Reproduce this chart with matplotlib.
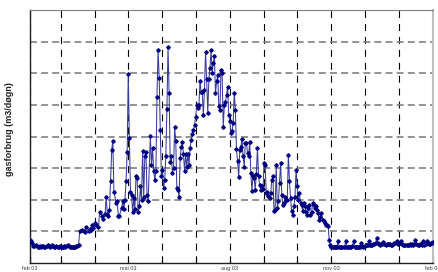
import numpy as np
import matplotlib
matplotlib.use("Agg")
import matplotlib.pyplot as plt
import matplotlib.dates as mdates

plt.rcParams['font.family'] = ['Liberation Sans', 'DejaVu Sans']
plt.rcParams['lines.scale_dashes'] = False

start_date = np.datetime64('2003-02-01')
end_date = np.datetime64('2004-02-01')

# Winter (Feb - mid March) daily values, days 0..44
days_a = list(range(0, 45))
use_a = [0.72, 0.70, 0.62, 0.55, 0.54, 0.58, 0.53, 0.52, 0.52, 0.53, 0.52, 0.54, 0.53, 0.52, 0.52,
         0.55, 0.57, 0.53, 0.52, 0.54, 0.57, 0.53, 0.52, 0.52, 0.53, 0.52, 0.52, 0.53, 0.52, 0.52,
         0.52, 0.53, 0.52, 0.55, 0.57, 0.54, 0.52, 0.52, 0.51, 0.51, 0.52, 0.52, 0.53, 0.55, 0.56]

# Spring / early summer
days_b = [45, 47, 49, 50, 51, 53, 54, 55, 56, 57, 59, 60, 62, 63, 65, 66, 68, 69, 70, 71,
          72, 73, 74, 75, 76, 78, 79, 80, 81, 83, 84, 85, 86, 87, 88, 89, 90, 91, 92, 93,
          94, 95, 96, 97, 98, 99, 100, 101, 102, 103, 104, 105, 106, 107, 109, 110, 111, 112, 113, 114,
          115, 116, 117, 118, 119, 120, 121, 122, 123, 124, 125, 126, 127, 128, 129, 130, 131, 132, 133, 134,
          135, 136, 137, 138, 139, 140, 141, 142, 143, 144, 145, 146, 147, 148, 149, 150, 151, 152, 153, 154,
          155, 156, 157, 158, 159, 160, 161, 162, 163, 164, 165, 166, 167, 168, 169, 170, 171, 172, 173, 174,
          175, 176]
use_b = [1.00, 1.05, 1.00, 0.97, 1.15, 1.02, 1.08, 1.05, 1.20, 1.10, 1.25, 1.20, 1.13, 1.60, 1.50, 1.40, 1.55, 2.10, 1.55, 1.50,
         1.68, 2.60, 3.58, 3.87, 2.26, 1.89, 1.95, 1.50, 1.50, 1.75, 1.95, 1.70, 2.00, 2.60, 3.50, 5.97, 3.95, 2.26, 2.15, 1.60,
         2.05, 1.70, 2.74, 2.70, 1.60, 1.80, 2.44, 2.00, 3.53, 2.10, 3.37, 3.50, 2.15, 1.95, 4.03, 3.10, 3.63, 2.90, 2.63, 2.90,
         5.26, 6.74, 5.86, 4.19, 2.74, 2.95, 2.37, 2.63, 3.37, 4.86, 6.82, 5.37, 3.18, 3.37, 2.86, 3.00, 4.29, 3.86, 2.37, 2.30,
         2.10, 3.32, 3.68, 3.84, 3.44, 2.90, 3.45, 3.05, 3.45, 3.10, 3.63, 3.90, 4.07, 4.20, 4.37, 4.61, 5.00, 4.90, 5.00, 5.77,
         5.40, 5.40, 4.68, 5.47, 6.68, 5.81, 4.74, 5.81, 6.16, 6.74, 6.00, 6.32, 6.53, 5.37, 5.74, 5.95, 4.97, 4.84, 6.10, 6.00,
         4.29, 5.00]

# Late summer / autumn, days 177..270
days_c = list(range(177, 271))
use_c = [5.10, 5.30, 5.58, 4.68, 4.50, 4.10, 4.16, 4.42, 5.39, 4.84, 3.61, 3.21, 2.71, 3.58, 3.68, 3.92, 3.37, 3.05, 3.79, 3.81,
         3.47, 3.37, 3.84, 2.84, 2.29, 2.74, 2.68, 2.32, 2.82, 3.63, 2.74, 2.47, 2.32, 2.42, 2.34, 3.16, 3.10, 2.21, 2.26, 2.13,
         2.05, 2.21, 2.63, 2.74, 1.63, 1.68, 3.10, 1.74, 1.95, 2.53, 3.16, 2.16, 1.84, 1.89, 2.10, 2.00, 2.00, 3.42, 2.58, 2.05,
         1.63, 1.53, 1.79, 2.10, 2.95, 2.42, 2.00, 2.21, 1.89, 1.84, 1.63, 1.89, 1.79, 1.60, 1.53, 1.74, 1.84, 1.53, 1.60, 1.89,
         1.84, 1.74, 1.79, 1.68, 1.58, 1.37, 1.47, 1.58, 1.35, 1.32, 1.26, 1.21, 1.21, 1.18]

# Winter again, days 271..365
days_d = list(range(271, 366))
use_d = [0.72, 0.58, 0.52, 0.50, 0.50, 0.51, 0.50, 0.52, 0.69, 0.51, 0.50, 0.50, 0.51, 0.50, 0.52, 0.69, 0.52, 0.50, 0.51, 0.50,
         0.50, 0.53, 0.69, 0.52, 0.51, 0.50, 0.50, 0.51, 0.52, 0.64, 0.53, 0.52, 0.55, 0.57, 0.56, 0.58, 0.70, 0.58, 0.56, 0.58,
         0.60, 0.59, 0.62, 0.79, 0.62, 0.60, 0.58, 0.59, 0.60, 0.66, 0.60, 0.58, 0.59, 0.61, 0.60, 0.59, 0.58, 0.57, 0.60, 0.62,
         0.63, 0.71, 0.60, 0.63, 0.62, 0.68, 0.60, 0.58, 0.57, 0.56, 0.58, 0.57, 0.58, 0.59, 0.58, 0.60, 0.58, 0.59, 0.72, 0.60,
         0.58, 0.58, 0.60, 0.59, 0.57, 0.70, 0.58, 0.59, 0.60, 0.70, 0.61, 0.60, 0.62, 0.63, 0.66]

tick_labels = ["feb 03", "mai 03", "aug 03", "nov 03", "feb 04"]
y_label = "gasforbrug (m3/døgn)"
y_max = 8
y_grid = [1, 2, 3, 4, 5, 6, 7]

days = np.array(days_a + days_b + days_c + days_d)
usage = np.array(use_a + use_b + use_c + use_d)
dates = start_date + days.astype('timedelta64[D]')

W, H = 439, 272
fig = plt.figure(figsize=(W / 100, H / 100), dpi=100)
ax = fig.add_axes([30 / W, 9 / H, 403 / W, 253 / H])

ax.plot(dates, usage, color='#3a3a9c', lw=0.75, marker='D', markersize=1.8,
        markerfacecolor='#000080', markeredgecolor='#000080', zorder=3)

ax.set_xlim(start_date, end_date)
ax.set_ylim(0, y_max)

ax.xaxis.set_major_locator(mdates.MonthLocator(bymonth=[2, 5, 8, 11]))
ax.xaxis.set_minor_locator(mdates.MonthLocator())
ax.xaxis.set_major_formatter(matplotlib.ticker.FixedFormatter(tick_labels))
ax.set_yticks(y_grid)

ax.xaxis.grid(True, which='both', color='black', linestyle=(0, (5, 4.3)), linewidth=0.8)
ax.yaxis.grid(True, color='#808080', linestyle=(0, (5, 3)), linewidth=1.2)
ax.set_axisbelow(True)

ax.tick_params(axis='y', length=0, labelleft=False)
ax.tick_params(axis='x', which='both', direction='in', length=5, width=0.8, color='black',
               labelsize=4, labelcolor='#404040', pad=2)

for side in ['left', 'bottom']:
    ax.spines[side].set_color('#202020')
    ax.spines[side].set_linewidth(1.0)
ax.spines['top'].set_color('#808080')
ax.spines['top'].set_linewidth(0.8)
ax.spines['right'].set_color('#c0c0c0')
ax.spines['right'].set_linewidth(1.5)

fig.text(10 / W, 1 - 129 / H, y_label, rotation=90, ha='center', va='center',
         fontsize=6.5, fontweight='bold', color='#202020')

fig.savefig('out.png', dpi=100)
